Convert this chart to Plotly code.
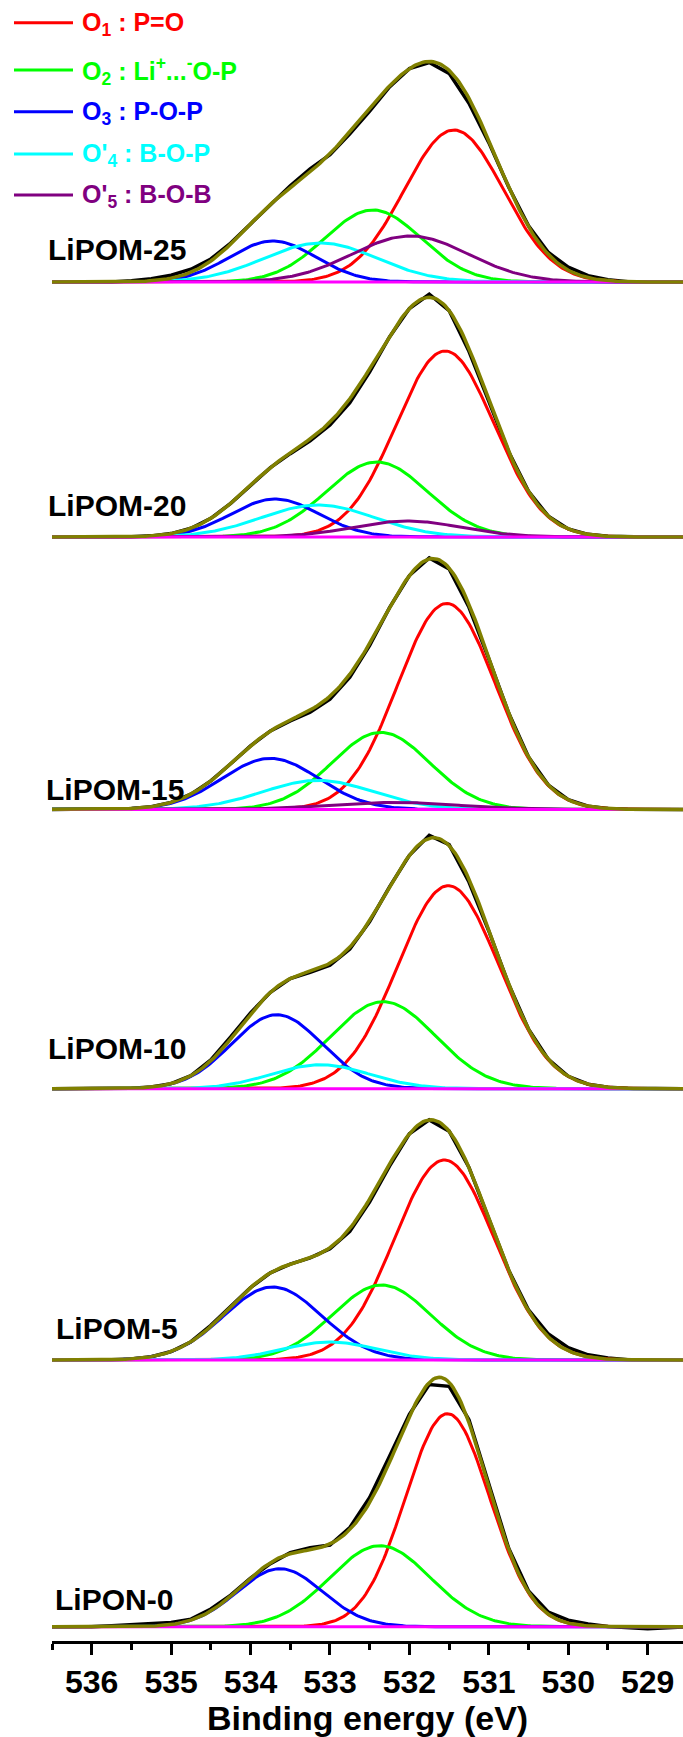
import numpy as np
import plotly.graph_objects as go

# ---------------- data ----------------
samples = ["LiPOM-25", "LiPOM-20", "LiPOM-15", "LiPOM-10", "LiPOM-5", "LiPON-0"]

# Gaussian fit components: centre (eV), height (a.u.), FWHM (eV); None = component absent
o1_center = [531.44, 531.55, 531.53, 531.51, 531.56, 531.52]
o1_height = [152, 186, 206, 203, 200, 213]
o1_fwhm = [1.47, 1.45, 1.45, 1.50, 1.48, 1.25]

o2_center = [532.46, 532.41, 532.36, 532.33, 532.35, 532.37]
o2_height = [72, 75, 77, 87, 75, 81]
o2_fwhm = [1.43, 1.50, 1.45, 1.55, 1.45, 1.49]

o3_center = [533.72, 533.69, 533.75, 533.67, 533.72, 533.63]
o3_height = [41, 38, 51, 74, 73, 58]
o3_fwhm = [1.28, 1.30, 1.43, 1.34, 1.45, 1.26]

o4_center = [533.12, 533.15, 533.15, 533.12, 533.00, None]
o4_height = [39, 32, 29, 24, 18, None]
o4_fwhm = [1.68, 1.68, 1.64, 1.45, 1.40, None]

o5_center = [531.99, 532.03, 532.20, None, None, None]
o5_height = [46, 16, 7, None, None, None]
o5_fwhm = [1.72, 1.60, 1.90, None, None, None]

# measured spectrum = fit + residual, residual read on a 0.25 eV grid (536.5 -> 528.5)
resid_grid = [536.5, 536.25, 536.0, 535.75, 535.5, 535.25, 535.0, 534.75, 534.5, 534.25,
              534.0, 533.75, 533.5, 533.25, 533.0, 532.75, 532.5, 532.25, 532.0, 531.75,
              531.5, 531.25, 531.0, 530.75, 530.5, 530.25, 530.0, 529.75, 529.5, 529.25,
              529.0, 528.75, 528.5]
resid_25 = [0, 0, 0, 0, 1, 2, 3, 3, 2, 1, 0, 0, 2, 3, -1, -2, -3, -1, 0, -1, -3, -5, -2, 0, 1, 2, 3, 2, 1, 0, 0, 0, 0]
resid_20 = [0, 0, 0, 0, 0, 0, 0, 0, 0, 0, 0, 0, -1, -2, -3, -4, -3, -1, 0, 3, 0, -3, -1, 0, 0, 0, 0, 0, 0, 0, 0, 0, 0]
resid_15 = [0, 0, 0, 0, 0, 0, 0, 0, 0, 0, 0, 0, -1, -2, -3, -3, -2, 0, 0, 1, -1, -3, -1, 0, 0, 0, 0, 0, 0, 0, 0, 0, 0]
resid_10 = [0, 0, 0, 0, 0, 0, 0, 0, 1, 2, 1, 0, 0, -1, -2, -2, -1, 0, 0, 3, 1, -3, -1, 0, 0, 0, 0, 0, 0, 0, 0, 0, 0]
resid_5 = [0, 0, 0, 0, 0, 0, 0, 0, 1, 1, 0, 0, 0, 0, -1, -3, -3, -2, 0, 0, 0, 0, 0, 0, 1, 3, 3, 2, 1, 0, 0, 0, 0]
resid_0 = [0, 0, 0, 1, 2, 2, 2, 1, 2, 1, 0, -1, 1, 2, -1, 2, 5, 6, 2, -2, -4, 3, 2, 1, 1, 2, 3, 2, 0, -1, -2, -1, 0]
residuals = [resid_25, resid_20, resid_15, resid_10, resid_5, resid_0]

legend_labels = [
    "O<sub>1</sub> : P=O",
    "O<sub>2</sub> : Li<sup>+</sup>...<sup>-</sup>O-P",
    "O<sub>3</sub> : P-O-P",
    "O'<sub>4</sub> : B-O-P",
    "O'<sub>5</sub> : B-O-B",
]
x_tick_vals = [536, 535, 534, 533, 532, 531, 530, 529]
x_title = "Binding energy (eV)"

# ---------------- layout constants (pixels) ----------------
W, H = 683, 1737
PL, PR, PT, PB = 52, 683, 0, 1641
FONT = "Liberation Sans, Arial, sans-serif"
comp_colors = ["#FF0000", "#00FF00", "#0000FF", "#00FFFF", "#800080"]
baseline_px = [282, 537, 809.4, 1088.7, 1360, 1626.7]
label_px = [(46, 249), (46, 505), (44, 790), (46, 1048), (54, 1328), (53, 1599)]
legend_y_px = [22.7, 70, 111.7, 154, 195]


def gauss(e, c, h, fwhm):
    s = fwhm / (2 * np.sqrt(2 * np.log(2)))
    return h * np.exp(-((e - c) ** 2) / (2 * s ** 2))


E_fine = np.linspace(536.6, 528.4, 329)
E_res = np.array(resid_grid)

fig = go.Figure()
comps = [(o1_center, o1_height, o1_fwhm), (o2_center, o2_height, o2_fwhm),
         (o3_center, o3_height, o3_fwhm), (o4_center, o4_height, o4_fwhm),
         (o5_center, o5_height, o5_fwhm)]

for i, name in enumerate(samples):
    off = PB - baseline_px[i]
    fit_fine = np.zeros_like(E_fine)
    fit_res = np.zeros_like(E_res)
    for (cs, hs, ws) in comps:
        if cs[i] is None:
            continue
        fit_fine += gauss(E_fine, cs[i], hs[i], ws[i])
        fit_res += gauss(E_res, cs[i], hs[i], ws[i])
    measured = fit_res + np.array(residuals[i])
    fig.add_trace(go.Scatter(x=E_res, y=measured + off, mode="lines",
                             line=dict(color="black", width=3.5), showlegend=False,
                             hoverinfo="skip"))
    for k, (cs, hs, ws) in enumerate(comps):
        if cs[i] is None:
            continue
        fig.add_trace(go.Scatter(x=E_fine, y=gauss(E_fine, cs[i], hs[i], ws[i]) + off,
                                 mode="lines", line=dict(color=comp_colors[k], width=3),
                                 showlegend=False, hoverinfo="skip"))
    fig.add_trace(go.Scatter(x=[E_fine[0], E_fine[-1]], y=[off, off], mode="lines",
                             line=dict(color="#FF00FF", width=3), showlegend=False,
                             hoverinfo="skip"))
    fig.add_trace(go.Scatter(x=E_fine, y=fit_fine + off, mode="lines",
                             line=dict(color="#808000", width=3.5), showlegend=False,
                             hoverinfo="skip"))


def paper_x(px):
    return (px - PL) / (PR - PL)


def paper_y(py):
    return (PB - py) / (PB - PT)


annotations = []
shapes = []
for i, name in enumerate(samples):
    lx, ly = label_px[i]
    annotations.append(dict(text="<b>%s</b>" % name, x=paper_x(lx), y=paper_y(ly),
                            xref="paper", yref="paper", xanchor="left", yanchor="middle",
                            showarrow=False, font=dict(family=FONT, size=30, color="black")))
for k, lab in enumerate(legend_labels):
    y = legend_y_px[k]
    shapes.append(dict(type="line", xref="paper", yref="paper",
                       x0=paper_x(14), x1=paper_x(73), y0=paper_y(y), y1=paper_y(y),
                       line=dict(color=comp_colors[k], width=3)))
    annotations.append(dict(text="<b>%s</b>" % lab, x=paper_x(80), y=paper_y(y + 1),
                            xref="paper", yref="paper", xanchor="left", yanchor="middle",
                            showarrow=False,
                            font=dict(family=FONT, size=25, color=comp_colors[k])))
annotations.append(dict(text="<b>%s</b>" % x_title, x=0.5, y=paper_y(1718),
                        xref="paper", yref="paper", xanchor="center", yanchor="middle",
                        showarrow=False, font=dict(family=FONT, size=34, color="black")))

fig.update_layout(
    width=W, height=H,
    margin=dict(l=PL, r=W - PR, t=PT, b=H - PB, pad=0),
    paper_bgcolor="white", plot_bgcolor="white",
    showlegend=False,
    annotations=annotations, shapes=shapes,
    xaxis=dict(range=[536.5, 528.555], tickmode="array", tickvals=x_tick_vals,
               ticktext=[str(v) for v in x_tick_vals],
               ticks="outside", ticklen=11, tickwidth=3, tickcolor="black",
               showline=True, linewidth=3, linecolor="black", showgrid=False,
               zeroline=False, mirror=False,
               tickfont=dict(family=FONT, size=32, color="black", weight="bold"),
               minor=dict(dtick=0.5, tick0=536.5, ticks="outside", ticklen=6, tickwidth=3,
                          tickcolor="black", showgrid=False)),
    yaxis=dict(range=[0, PB - PT], visible=False, showgrid=False, zeroline=False),
)

fig.write_html(
    "out.html",
    config={"displayModeBar": False, "staticPlot": True},
    post_script="document.documentElement.style.margin='0';document.body.style.margin='0';"
                "document.body.style.overflow='hidden';document.documentElement.style.overflow='hidden';",
)
